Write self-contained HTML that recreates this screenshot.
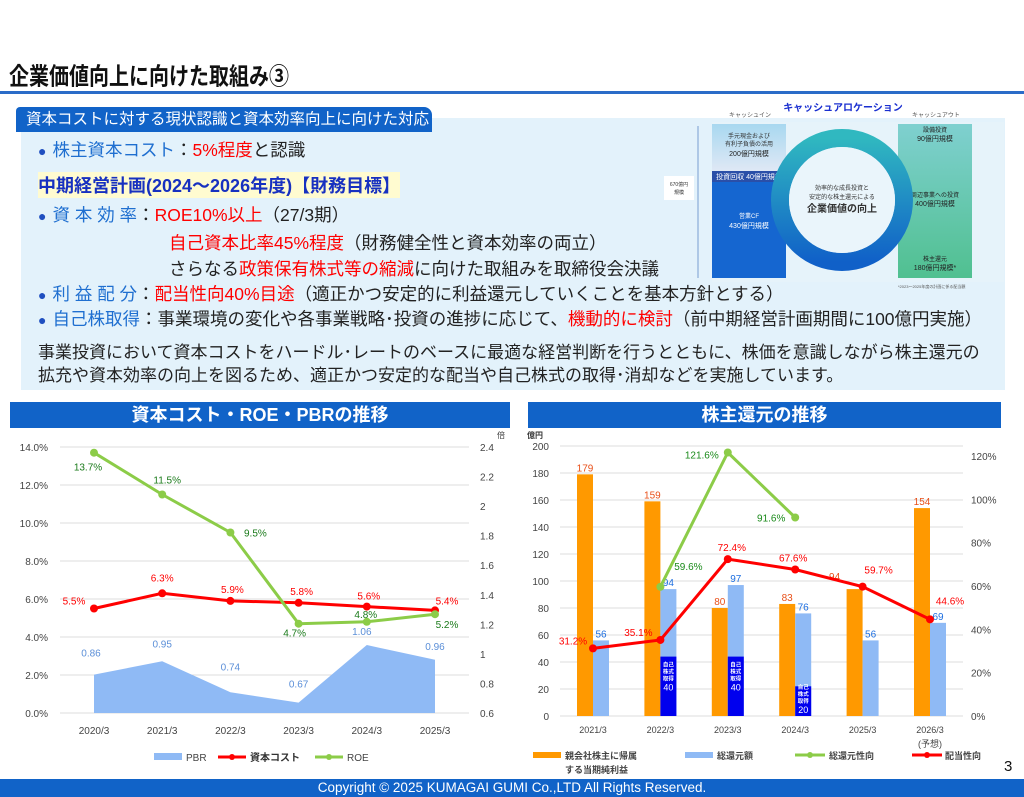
<!DOCTYPE html>
<html><head><meta charset="utf-8">
<style>
body{margin:0;width:1024px;height:797px;overflow:hidden;background:#fff;font-family:"Liberation Sans","Noto Sans CJK JP",sans-serif;position:relative}
.abs{position:absolute;white-space:nowrap}
.ln{position:absolute;left:38px;font-size:17.5px;color:#222;white-space:nowrap}
.b{color:#1f6fd0}.r{color:#f00}
.dot{color:#1f4fc0;font-size:14px;margin-right:6px}
</style></head><body>
<div class="abs" style="left:9px;top:57px;font-size:20px;font-weight:bold;color:#111;transform:scaleY(1.2);transform-origin:top left">企業価値向上に向けた取組み③</div>
<div class="abs" style="left:0;top:91px;width:1024px;height:3px;background:#2a6cc8"></div>
<div class="abs" style="left:21px;top:118px;width:984px;height:272px;background:#e3f2fb"></div>
<div class="abs" style="left:16px;top:107px;width:416px;height:25px;background:#1163c8;border-radius:4px 8px 0 0;color:#fff;font-size:15.5px;line-height:25px;padding-left:10px;box-sizing:border-box;overflow:hidden">資本コストに対する現状認識と資本効率向上に向けた対応</div>
<div class="ln" style="top:137px"><span class="dot">●</span><span class="b">株主資本コスト</span>：<span class="r">5%程度</span>と認識</div>
<div class="ln" style="left:38px;top:172px;font-weight:bold;color:#1730c0;background:#fffbd0;font-size:18px">中期経営計画(2024～2026年度)【財務目標】</div>
<div class="ln" style="top:202px"><span class="dot">●</span><span class="b">資 本 効 率</span>：<span class="r">ROE10%以上</span>（27/3期）</div>
<div class="ln" style="left:169px;top:230px"><span class="r">自己資本比率45%程度</span>（財務健全性と資本効率の両立）</div>
<div class="ln" style="left:169px;top:256px">さらなる<span class="r">政策保有株式等の縮減</span>に向けた取組みを取締役会決議</div>
<div class="ln" style="top:281px"><span class="dot">●</span><span class="b">利 益 配 分</span>：<span class="r">配当性向40%目途</span>（適正かつ安定的に利益還元していくことを基本方針とする）</div>
<div class="ln" style="top:306px"><span class="dot">●</span><span class="b">自己株取得</span>：事業環境の変化や各事業戦略･投資の進捗に応じて、<span class="r">機動的に検討</span>（前中期経営計画期間に100億円実施）</div>
<div class="ln" style="left:38px;top:341px;line-height:23px;font-size:17px">事業投資において資本コストをハードル･レートのベースに最適な経営判断を行うとともに、株価を意識しながら株主還元の<br>拡充や資本効率の向上を図るため、適正かつ安定的な配当や自己株式の取得･消却などを実施しています。</div>

<svg class="abs" style="left:660px;top:98px" width="364" height="200" font-family="Liberation Sans,Noto Sans CJK JP,sans-serif">
<text x="183" y="13" font-size="10" font-weight="bold" fill="#1a2fd0" text-anchor="middle">キャッシュアロケーション</text>
<text x="90" y="19" font-size="6" fill="#555" text-anchor="middle">キャッシュイン</text>
<text x="276" y="19" font-size="6" fill="#555" text-anchor="middle">キャッシュアウト</text>
<rect x="52" y="24" width="292" height="160" fill="#e6f3fa"/>
<defs><linearGradient id="lg" x1="0" y1="0" x2="0" y2="1"><stop offset="0" stop-color="#a8d8f0"/><stop offset="1" stop-color="#dfe8f5"/></linearGradient>
<linearGradient id="rg" x1="0" y1="0" x2="0" y2="1"><stop offset="0" stop-color="#7fd0d0"/><stop offset="1" stop-color="#50c090"/></linearGradient>
<linearGradient id="cg" x1="0" y1="0" x2="0" y2="1"><stop offset="0" stop-color="#30b8c0"/><stop offset="1" stop-color="#1060c8"/></linearGradient></defs>
<rect x="52" y="26" width="74" height="47" fill="url(#lg)"/>
<rect x="52" y="73" width="74" height="11" fill="#2a4fa8"/>
<rect x="52" y="84" width="74" height="96" fill="#1566d0"/>
<text x="89" y="40" font-size="6" text-anchor="middle" fill="#333">手元現金および</text>
<text x="89" y="48" font-size="6" text-anchor="middle" fill="#333">有利子負債の活用</text>
<text x="89" y="58" font-size="7" text-anchor="middle" fill="#222">200億円規模</text>
<text x="89" y="81" font-size="7" text-anchor="middle" fill="#fff">投資回収 40億円規模</text>
<text x="89" y="120" font-size="6" text-anchor="middle" fill="#fff">営業CF</text>
<text x="89" y="130" font-size="7" text-anchor="middle" fill="#fff">430億円規模</text>
<rect x="238" y="26" width="74" height="154" fill="url(#rg)"/>
<text x="275" y="34" font-size="6" text-anchor="middle" fill="#222">設備投資</text>
<text x="275" y="43" font-size="7" text-anchor="middle" fill="#222">90億円規模</text>
<text x="275" y="99" font-size="6" text-anchor="middle" fill="#222">周辺事業への投資</text>
<text x="275" y="108" font-size="7" text-anchor="middle" fill="#222">400億円規模</text>
<text x="275" y="163" font-size="6" text-anchor="middle" fill="#222">株主還元</text>
<text x="275" y="172" font-size="7" text-anchor="middle" fill="#222">180億円規模*</text>
<circle cx="182" cy="102" r="62" fill="none" stroke="url(#cg)" stroke-width="18"/>
<circle cx="182" cy="102" r="53" fill="#eaf5fb"/>
<text x="182" y="92" font-size="6" text-anchor="middle" fill="#333">効率的な成長投資と</text>
<text x="182" y="101" font-size="6" text-anchor="middle" fill="#333">安定的な株主還元による</text>
<text x="182" y="114" font-size="10" font-weight="bold" text-anchor="middle" fill="#333">企業価値の向上</text>
<line x1="38" y1="28" x2="38" y2="180" stroke="#4a7ac0" stroke-width="0.7"/>
<rect x="4" y="78" width="30" height="24" fill="#fff"/>
<text x="19" y="88" font-size="5" text-anchor="middle" fill="#333">670億円</text>
<text x="19" y="96" font-size="5" text-anchor="middle" fill="#333">規模</text>
<text x="238" y="190" font-size="4" fill="#555">*2023～2025年度の計画に係る配当額</text>
</svg>

<div class="abs" style="left:10px;top:402px;width:500px;height:26px;background:#1163c8;color:#fff;font-size:18px;font-weight:bold;text-align:center;line-height:26px">資本コスト・ROE・PBRの推移</div>
<div class="abs" style="left:528px;top:402px;width:473px;height:26px;background:#1163c8;color:#fff;font-size:18px;font-weight:bold;text-align:center;line-height:26px">株主還元の推移</div>

<svg id="lc" class="abs" style="left:0;top:428px" width="515" height="350" font-family="Liberation Sans,Noto Sans CJK JP,sans-serif"></svg>
<svg id="rc" class="abs" style="left:515px;top:428px" width="509" height="350" font-family="Liberation Sans,Noto Sans CJK JP,sans-serif"></svg>

<div class="abs" style="left:1004px;top:758px;font-size:15px;color:#111">3</div>
<div class="abs" style="left:0;top:779px;width:1024px;height:18px;background:#1163c8;color:#fff;font-size:13.5px;text-align:center;line-height:18px">Copyright © 2025 KUMAGAI GUMI Co.,LTD All Rights Reserved.</div>

<script>
const lcCats=["2020/3","2021/3","2022/3","2023/3","2024/3","2025/3"];
const lcPBR=[0.86,0.95,0.74,0.67,1.06,0.96];
const lcCost=[5.5,6.3,5.9,5.8,5.6,5.4];
const lcROE=[13.7,11.5,9.5,4.7,4.8,5.2];
const lcLeftTicks=[0,2,4,6,8,10,12,14];
const lcRightTicks=[0.6,0.8,1,1.2,1.4,1.6,1.8,2,2.2,2.4];

const rcCats=["2021/3","2022/3","2023/3","2024/3","2025/3","2026/3"];
const rcIncome=[179,159,80,83,94,154];
const rcReturn=[56,94,97,76,56,69];
const rcBuyback=[0,44,44,22,0,0];
const rcBuybackLbl=[0,40,40,20,0,0];
const rcTotalRatio=[null,59.6,121.6,91.6,null,null];
const rcPayout=[31.2,35.1,72.4,67.6,59.7,44.6];
const rcLeftTicks=[0,20,40,60,80,100,120,140,160,180,200];
const rcRightTicks=[0,20,40,60,80,100,120];

const NS="http://www.w3.org/2000/svg";
function mk(svg,tag,a,txt){const e=document.createElementNS(NS,tag);for(const k in a)e.setAttribute(k,a[k]);if(txt!==undefined)e.textContent=txt;svg.appendChild(e);return e;}

const L=document.getElementById('lc');
const lx=i=>94+i*68.2;
const ly=v=>285-v*19;
const lyr=v=>285-(v-0.6)/1.8*266;
lcLeftTicks.forEach(t=>{
  let g=mk(L,'line',{x1:60,x2:469,y1:ly(t),y2:ly(t),stroke:'#ddd'});
  
  let e=mk(L,'text',{x:48,y:ly(t)+4,'font-size':10,'text-anchor':'end',fill:'#444'},t.toFixed(1)+'%');
  
});
lcRightTicks.forEach(t=>{
  let e=mk(L,'text',{x:480,y:lyr(t)+4,'font-size':10,fill:'#444'},String(t));
  
});
let ut=mk(L,'text',{x:497,y:10,'font-size':8,fill:'#333'},'倍');

let pts=lcPBR.map((v,i)=>lx(i)+','+lyr(v)).join(' ');
let area=mk(L,'polygon',{points:lx(0)+','+ly(0)+' '+pts+' '+lx(5)+','+ly(0),fill:'#8fbaf5'});

const pbrOff=[[-3,-18],[0,-14],[0,-22],[0,-15],[-5,-10],[0,-10]];
lcPBR.forEach((v,i)=>{let e=mk(L,'text',{x:lx(i)+pbrOff[i][0],y:lyr(v)+pbrOff[i][1],'font-size':10,'text-anchor':'middle',fill:'#5b8fd8'},v.toFixed(2));
  });
function line(svg,arr,xf,yf,col,name){
  let segs=[];let cur=[];
  arr.forEach((v,i)=>{if(v===null){if(cur.length)segs.push(cur);cur=[];}else cur.push(xf(i)+','+yf(v));});
  if(cur.length)segs.push(cur);
  segs.forEach(s=>{let p=mk(svg,'polyline',{points:s.join(' '),fill:'none',stroke:col,'stroke-width':3});
    });
  arr.forEach((v,i)=>{if(v===null)return;let c=mk(svg,'circle',{cx:xf(i),cy:yf(v),r:4,fill:col});
    });
}
line(L,lcCost,lx,ly,'#f00','cost-line');
line(L,lcROE,lx,ly,'#8ccc48','roe-line');
const costOff=[[-20,-4],[0,-12],[2,-8],[3,-8],[2,-7],[12,-6]];
lcCost.forEach((v,i)=>{let e=mk(L,'text',{x:lx(i)+costOff[i][0],y:ly(v)+costOff[i][1],'font-size':10,'text-anchor':'middle',fill:'#f00'},v.toFixed(1)+'%');
  });
const roeOff=[[-6,18],[5,-11],[25,4],[-4,13],[-1,-4],[12,14]];
lcROE.forEach((v,i)=>{let e=mk(L,'text',{x:lx(i)+roeOff[i][0],y:ly(v)+roeOff[i][1],'font-size':10,'text-anchor':'middle',fill:'#1a7a1a'},v.toFixed(1)+'%');
  });
lcCats.forEach((c,i)=>{let e=mk(L,'text',{x:lx(i),y:306,'font-size':10,'text-anchor':'middle',fill:'#444'},c);
  });
(function(){
 let r=mk(L,'rect',{x:154,y:325,width:28,height:7,fill:'#8fbaf5'});
 mk(L,'text',{x:186,y:333,'font-size':10,fill:'#444'},'PBR');
 let a=mk(L,'line',{x1:218,x2:246,y1:329,y2:329,stroke:'#f00','stroke-width':3});
 mk(L,'circle',{cx:232,cy:329,r:3,fill:'#f00'});
 mk(L,'text',{x:250,y:333,'font-size':10,fill:'#333','font-weight':'bold'},'資本コスト');
 let b=mk(L,'line',{x1:315,x2:343,y1:329,y2:329,stroke:'#8ccc48','stroke-width':3});
 mk(L,'circle',{cx:329,cy:329,r:3,fill:'#8ccc48'});
 mk(L,'text',{x:347,y:333,'font-size':10,fill:'#444'},'ROE');
})();

const R=document.getElementById('rc');
const rx=i=>78+i*67.4;
const ry=v=>288-v*1.35;
const ryr=v=>288-v*2.167;
rcLeftTicks.forEach(t=>{
  let g=mk(R,'line',{x1:45,x2:448,y1:ry(t),y2:ry(t),stroke:'#ddd'});
  
  let e=mk(R,'text',{x:34,y:ry(t)+4,'font-size':10,'text-anchor':'end',fill:'#444'},String(t));
  
});
rcRightTicks.forEach(t=>{let e=mk(R,'text',{x:456,y:ryr(t)+4,'font-size':10,fill:'#444'},t+'%');
  });
let u2=mk(R,'text',{x:12,y:10,'font-size':8,fill:'#333','font-weight':'bold'},'億円');

rcIncome.forEach((v,i)=>{
  let b=mk(R,'rect',{x:rx(i)-16,y:ry(v),width:16,height:ry(0)-ry(v),fill:'#ff9900'});
  
  let t=mk(R,'text',{x:rx(i)-8-(i==4?20:0),y:ry(v)-3+(i==4?-6:0),'font-size':10,'text-anchor':'middle',fill:'#e8501a'},String(v));
  
});
rcReturn.forEach((v,i)=>{
  let b=mk(R,'rect',{x:rx(i),y:ry(v),width:16,height:ry(0)-ry(v),fill:'#8fbaf5'});
  
  let t=mk(R,'text',{x:rx(i)+8,y:ry(v)-3,'font-size':10,'text-anchor':'middle',fill:'#1e6fe0'},String(v));
  
  const bb=rcBuyback[i];
  if(bb>0){
    let s=mk(R,'rect',{x:rx(i),y:ry(bb),width:16,height:ry(0)-ry(bb),fill:'#0000ee'});
    
    const top=Math.min(ry(bb)+10,ry(0)-27);
    ['自己','株式','取得'].forEach((w,k)=>mk(R,'text',{x:rx(i)+8,y:top+k*7,'font-size':5.5,'text-anchor':'middle',fill:'#fff','font-weight':'bold'},w));
    let l=mk(R,'text',{x:rx(i)+8,y:Math.min(top+24,ry(0)-1),'font-size':9,'text-anchor':'middle',fill:'#fff'},String(rcBuybackLbl[i]));
    
  }
});
line(R,rcTotalRatio,rx,ryr,'#8ccc48','total-return-ratio-line');
line(R,rcPayout,rx,ryr,'#f00','payout-ratio-line');
const trOff=[null,[28,-17],[-26,6],[-24,4]];
rcTotalRatio.forEach((v,i)=>{if(v===null)return;let e=mk(R,'text',{x:rx(i)+trOff[i][0],y:ryr(v)+trOff[i][1],'font-size':10,'text-anchor':'middle',fill:'#1a8a1a'},v.toFixed(1)+'%');
  });
const poOff=[[-20,-4],[-22,-4],[4,-8],[-2,-8],[16,-13],[20,-15]];
rcPayout.forEach((v,i)=>{let e=mk(R,'text',{x:rx(i)+poOff[i][0],y:ryr(v)+poOff[i][1],'font-size':10,'text-anchor':'middle',fill:'#f00'},v.toFixed(1)+'%');
  });
rcCats.forEach((c,i)=>{let e=mk(R,'text',{x:rx(i),y:305,'font-size':9,'text-anchor':'middle',fill:'#444'},c);
  });
let fc=mk(R,'text',{x:rx(5),y:319,'font-size':9,'text-anchor':'middle',fill:'#444'},'(予想)');

(function(){
 let a=mk(R,'rect',{x:18,y:324,width:28,height:6,fill:'#ff9900'});
 mk(R,'text',{x:50,y:331,'font-size':9,fill:'#444','font-weight':'bold'},'親会社株主に帰属');
 mk(R,'text',{x:50,y:345,'font-size':9,fill:'#444','font-weight':'bold'},'する当期純利益');
 let b=mk(R,'rect',{x:170,y:324,width:28,height:6,fill:'#8fbaf5'});
 mk(R,'text',{x:202,y:331,'font-size':9,fill:'#444','font-weight':'bold'},'総還元額');
 let c=mk(R,'line',{x1:280,x2:310,y1:327,y2:327,stroke:'#8ccc48','stroke-width':3});
 mk(R,'circle',{cx:295,cy:327,r:3,fill:'#8ccc48'});
 mk(R,'text',{x:314,y:331,'font-size':9,fill:'#444','font-weight':'bold'},'総還元性向');
 let d=mk(R,'line',{x1:397,x2:427,y1:327,y2:327,stroke:'#f00','stroke-width':3});
 mk(R,'circle',{cx:412,cy:327,r:3,fill:'#f00'});
 mk(R,'text',{x:430,y:331,'font-size':9,fill:'#444','font-weight':'bold'},'配当性向');
})();
</script>
</body></html>
